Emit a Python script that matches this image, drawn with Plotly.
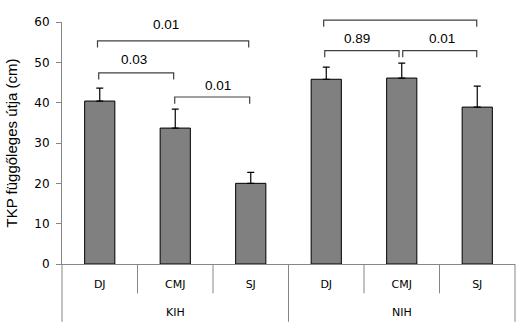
import plotly.graph_objects as go

# ---- data ----
groups = ["KIH", "NIH"]
tests = ["DJ", "CMJ", "SJ"]
means = [40.4, 33.7, 20.0, 45.8, 46.1, 38.9]
errs = [3.2, 4.7, 2.7, 3.0, 3.7, 5.2]
y_ticks = [0, 10, 20, 30, 40, 50, 60]

# significance brackets: start/end category positions, bracket level, p-value label
br_x0 = [-0.03, -0.014, 0.993, 2.966, 2.98, 4.013]
br_x1 = [1.973, 0.979, 1.986, 4.993, 3.964, 4.993]
br_level = [55.3, 47.4, 41.4, 60.45, 52.9, 52.9]
br_label = ["0.01", "0.03", "0.01", "0.01", "0.89", "0.01"]
lbl_x = [0.88, 0.45, 1.56, 3.73, 3.41, 4.53]
lbl_y = [59.3, 50.6, 44.35, 63.35, 55.9, 55.9]
LEG = 1.65
YMAX = 60

xpos = list(range(len(means)))
ticktext = tests * len(groups)

fig = go.Figure()
fig.add_trace(go.Bar(
    x=xpos, y=means,
    marker=dict(color="#808080", line=dict(color="black", width=1)),
    error_y=dict(type="data", array=errs, arrayminus=[0] * len(errs),
                 symmetric=False, color="black", thickness=1.2, width=3.5),
    width=0.4,
))

shapes = []
for x0, x1, lv in zip(br_x0, br_x1, br_level):
    shapes.append(dict(type="path", xref="x", yref="paper",
                       path=f"M {x0},{(lv-LEG)/YMAX} L {x0},{lv/YMAX} L {x1},{lv/YMAX} L {x1},{(lv-LEG)/YMAX}",
                       line=dict(color="#404040", width=1.2)))

n = len(means)
for b in range(n + 1):
    long = (b % len(tests) == 0)
    shapes.append(dict(type="line", xref="paper", yref="paper",
                       x0=b / n, x1=b / n, y0=0, y1=-0.239 if long else -0.121,
                       line=dict(color="#868686", width=1)))

annotations = []
for t, x, y in zip(br_label, lbl_x, lbl_y):
    annotations.append(dict(x=x, y=y, xref="x", yref="y", text=t, showarrow=False,
                            font=dict(family="Liberation Sans, Arial", size=13.5, color="black"),
                            xanchor="center", yanchor="middle"))
for i, g in enumerate(groups):
    annotations.append(dict(x=i * len(tests) + (len(tests) - 1) / 2, y=-0.2, xref="x", yref="paper",
                            text=g, showarrow=False,
                            font=dict(family="DejaVu Sans", size=11, color="black"),
                            xanchor="center", yanchor="middle"))

fig.update_layout(
    width=527, height=336,
    margin=dict(l=62, r=12, t=22, b=72),
    plot_bgcolor="white", paper_bgcolor="white",
    showlegend=False,
    shapes=shapes, annotations=annotations,
    xaxis=dict(range=[-0.5, n - 0.5], tickvals=xpos, ticktext=ticktext,
               showline=True, linecolor="#868686", linewidth=1,
               ticks="", ticklabelstandoff=10, showgrid=False, zeroline=False,
               tickfont=dict(family="DejaVu Sans", size=11, color="black"), fixedrange=True),
    yaxis=dict(range=[0, YMAX], tickvals=y_ticks, showline=True, linecolor="#868686",
               linewidth=1, ticks="outside", ticklen=5, tickcolor="#868686",
               ticklabelstandoff=4,
               showgrid=False, zeroline=False,
               tickfont=dict(family="DejaVu Sans", size=12, color="black"),
               title=dict(text="TKP függőleges útja (cm)", standoff=13,
                          font=dict(family="Liberation Sans, Arial", size=15, color="black"))),
)

fig.write_html("out.html")
